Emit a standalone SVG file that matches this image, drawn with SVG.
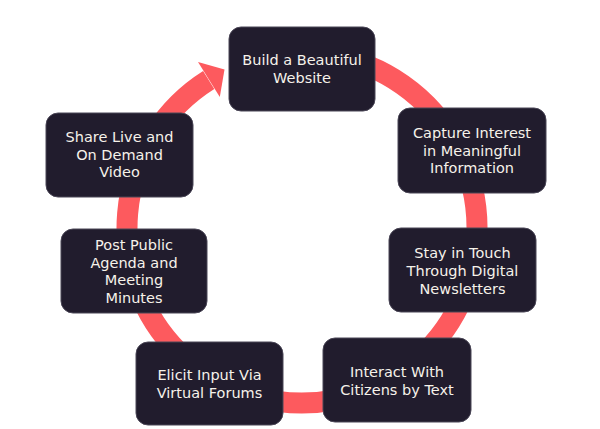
<svg xmlns="http://www.w3.org/2000/svg" width="600" height="429" viewBox="0 0 600 429">
<style>
.box{fill:#211c2d;stroke:#4a4656;stroke-width:1}
.t{font-family:"DejaVu Sans","Liberation Sans",sans-serif;font-size:14.5px;fill:#f6f2ea;text-anchor:middle}
.ring{fill:none;stroke:#fd5a5e;stroke-width:21}
</style>
<rect width="600" height="429" fill="#ffffff"/>
<g id="connectors">
<path class="ring" d="M 332.4 55.7 A 175 175 0 1 1 208.7 80"/>
<polygon points="198,62 219.8,97 224.5,69.5" fill="#fd5a5e"/>
</g>
<g id="node-website">
<rect class="box" x="229" y="27" width="146" height="84" rx="12"/>
<text class="t" x="302" y="65">Build a Beautiful</text>
<text class="t" x="302" y="82.5">Website</text>
</g>
<g id="node-capture">
<rect class="box" x="398" y="108" width="148" height="85" rx="12"/>
<text class="t" x="472" y="138">Capture Interest</text>
<text class="t" x="472" y="155.5">in Meaningful</text>
<text class="t" x="472" y="173">Information</text>
</g>
<g id="node-newsletters">
<rect class="box" x="389" y="228" width="147" height="84" rx="12"/>
<text class="t" x="462.5" y="257.5">Stay in Touch</text>
<text class="t" x="462.5" y="276">Through Digital</text>
<text class="t" x="462.5" y="294">Newsletters</text>
</g>
<g id="node-text">
<rect class="box" x="323" y="338" width="148" height="84" rx="12"/>
<text class="t" x="397" y="377">Interact With</text>
<text class="t" x="397" y="394.5">Citizens by Text</text>
</g>
<g id="node-forums">
<rect class="box" x="136" y="342" width="147" height="83" rx="12"/>
<text class="t" x="209.5" y="380">Elicit Input Via</text>
<text class="t" x="209.5" y="397.5">Virtual Forums</text>
</g>
<g id="node-agenda">
<rect class="box" x="61" y="229" width="146" height="84" rx="12"/>
<text class="t" x="134" y="250">Post Public</text>
<text class="t" x="134" y="267.5">Agenda and</text>
<text class="t" x="134" y="285">Meeting</text>
<text class="t" x="134" y="302.5">Minutes</text>
</g>
<g id="node-video">
<rect class="box" x="46" y="113" width="147" height="84" rx="12"/>
<text class="t" x="119.5" y="142">Share Live and</text>
<text class="t" x="119.5" y="159.5">On Demand</text>
<text class="t" x="119.5" y="177">Video</text>
</g>
</svg>
